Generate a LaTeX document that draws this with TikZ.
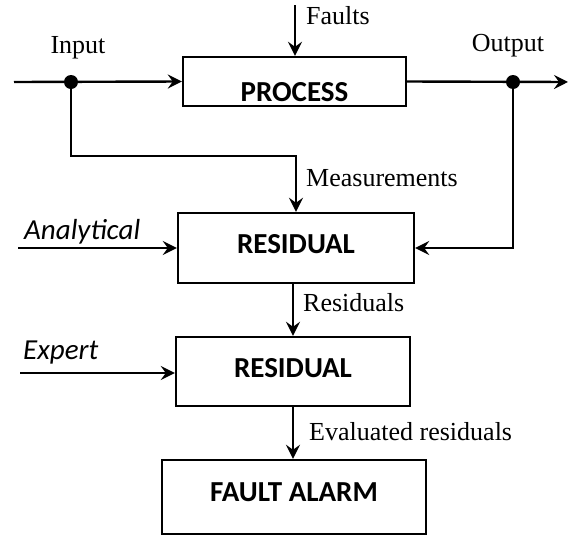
\documentclass[tikz,border=0pt]{standalone}
\usepackage{fontspec}
\setmainfont{Liberation Serif}
\newfontfamily\calibri{Carlito}
\usetikzlibrary{positioning, arrows.meta}

\begin{document}
\begin{tikzpicture}[
      x=1pt,y=-1pt,
      -{Stealth[length=14pt,width=14pt,inset=5pt]},line width=2.4pt,
      font=\fontsize{26}{28}\selectfont,
      block/.style={rectangle,draw,inner sep=0pt,text height=20pt,text depth=9pt,
        font=\calibri\bfseries\fontsize{29}{31}\selectfont},
      tag/.style={anchor=west,inner sep=0pt},
      side tag/.style={tag,font=\calibri\itshape\fontsize{29}{31}\selectfont},
      dot/.style={circle,fill,inner sep=0pt,minimum size=14pt}
    ]
    \useasboundingbox (0,0) rectangle (570,536);

    \node[block,minimum width=223pt,minimum height=49pt,text height=39pt,text depth=0pt] (process) at (294.5,81.5) {PROCESS};
    \node[block,minimum width=236pt,minimum height=70pt] (res1) at (296,248) {RESIDUAL};
    \node[block,minimum width=234pt,minimum height=69pt] (res2) at (293,371.5) {RESIDUAL};
    \node[block,minimum width=264pt,minimum height=74pt,text height=19pt,text depth=11pt] (alarm) at (294,497) {FAULT ALARM};

    \node[dot] (inDot) at (71,82) {};
    \node[dot] (outDot) at (513,82) {};

    \coordinate (inStart) at (14,82);
    \coordinate (outEnd) at (568,82);
    \coordinate (faultTop) at (295,5);
    \coordinate (measBend) at (296,156);
    \coordinate (anStart) at (18,248);
    \coordinate (exStart) at (20,373);

    \node (inLabel) at (78,48) {Input};
    \node (outLabel) at (508,46) {Output};
    \node[tag] (faultLabel) at (305,16) {Faults};
    \node[tag] (measLabel) at (305,178) {Measurements};
    \node[side tag] (anLabel) at (23,232) {Analytical};
    \node[tag] (resLabel) at (302,303) {Residuals};
    \node[side tag] (exLabel) at (22,353) {Expert};
    \node[tag] (evalLabel) at (308,432) {Evaluated residuals};

    \draw (inStart) -- (process.west);
    \draw (faultTop) -- (faultTop |- process.north);
    \draw (process.east) -- (outEnd);
    \draw (inDot.center) |- (measBend) -- (measBend |- res1.north);
    \draw (outDot.center) |- (res1.east);
    \draw (anStart) -- (anStart -| res1.west);
    \draw (res2.north |- res1.south) -- (res2.north);
    \draw (exStart) -- (exStart -| res2.west);
    \draw (res2.south) -- (res2.south |- alarm.north);
  \end{tikzpicture}
\end{document}
